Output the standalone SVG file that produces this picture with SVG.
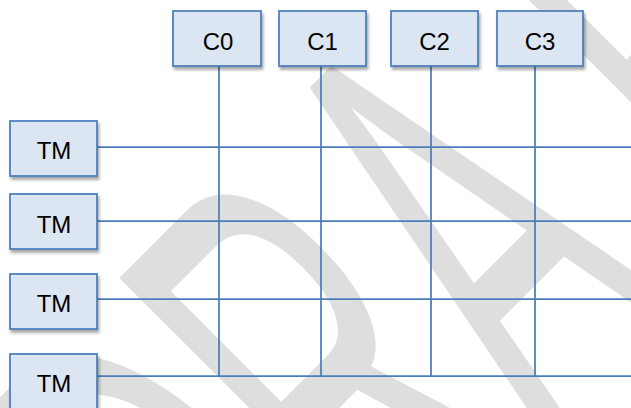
<svg xmlns="http://www.w3.org/2000/svg" width="631" height="408" viewBox="0 0 631 408">
<defs>
<filter id="sh" x="-20%" y="-20%" width="150%" height="160%">
<feDropShadow dx="1.5" dy="3" stdDeviation="1.8" flood-color="#000" flood-opacity="0.35"/>
</filter>
<style>
.box{fill:#dce6f2;stroke:#4a7ebb;stroke-width:1.75;filter:url(#sh)}
.lbl{font-family:"Liberation Sans",Arial,sans-serif;font-size:24px;fill:#000;text-anchor:middle}
.ln{stroke:#4a7ebb;stroke-width:1.75;fill:none}
.wm{font-family:"Liberation Sans",Arial,sans-serif;font-size:100px;fill:#dedede}
</style>
</defs>
<rect width="631" height="408" fill="#fff"/>
<g id="watermark">
<text class="wm" transform="rotate(-45) translate(0,704) scale(2.9,6.15)" x="-119 -46.9 25.9 120.7 181.7" y="0">DRAFT</text>
</g>
<g id="connectors">
<line class="ln" x1="219" y1="66" x2="219" y2="376"/>
<line class="ln" x1="321" y1="66" x2="321" y2="376"/>
<line class="ln" x1="431" y1="66" x2="431" y2="376"/>
<line class="ln" x1="535" y1="66" x2="535" y2="376"/>
<line class="ln" x1="97" y1="147" x2="631" y2="147"/>
<line class="ln" x1="97" y1="221" x2="631" y2="221"/>
<line class="ln" x1="97" y1="299" x2="631" y2="299"/>
<line class="ln" x1="97" y1="376" x2="631" y2="376"/>
</g>
<g id="c0"><rect class="box" x="173" y="11" width="88" height="55"/><text class="lbl" x="218" y="49.5">C0</text></g>
<g id="c1"><rect class="box" x="279" y="11" width="87" height="55"/><text class="lbl" x="322.5" y="49.5">C1</text></g>
<g id="c2"><rect class="box" x="391" y="11" width="87" height="55"/><text class="lbl" x="434.5" y="49.5">C2</text></g>
<g id="c3"><rect class="box" x="497" y="11" width="86" height="55"/><text class="lbl" x="540" y="49.5">C3</text></g>
<g id="tm1"><rect class="box" x="10" y="121" width="87" height="55"/><text class="lbl" x="54" y="159">TM</text></g>
<g id="tm2"><rect class="box" x="10" y="194" width="87" height="55"/><text class="lbl" x="54" y="233">TM</text></g>
<g id="tm3"><rect class="box" x="10" y="274" width="87" height="55"/><text class="lbl" x="54" y="312">TM</text></g>
<g id="tm4"><rect class="box" x="10" y="354" width="87" height="60"/><text class="lbl" x="54" y="392">TM</text></g>
</svg>
